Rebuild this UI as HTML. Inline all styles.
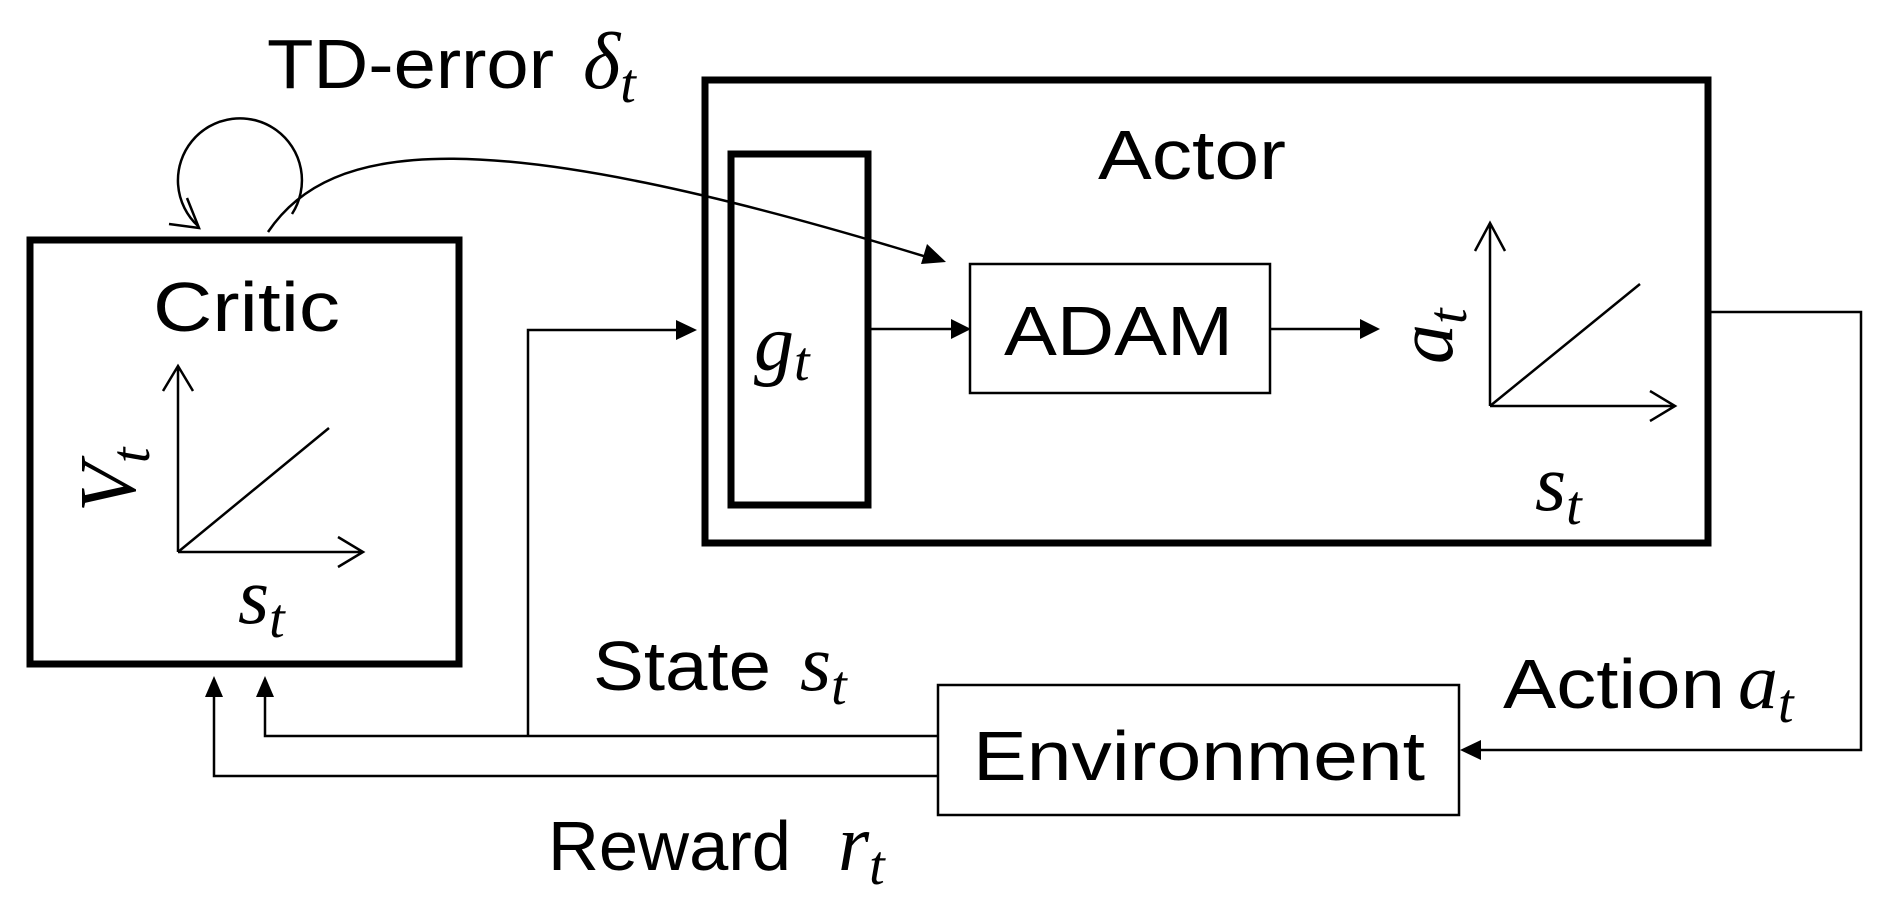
<!DOCTYPE html>
<html><head><meta charset="utf-8"><style>
html,body{margin:0;padding:0;background:#fff;width:1879px;height:922px;overflow:hidden}
svg{display:block}
text{font-family:"Liberation Sans",Arial,sans-serif;fill:#000}
.m{font-family:"Liberation Serif","DejaVu Serif",serif;font-style:italic}
</style></head><body>
<svg width="1879" height="922" viewBox="0 0 1879 922" xmlns="http://www.w3.org/2000/svg">
<g fill="none" stroke="#000">
<rect x="30" y="240" width="429" height="424" stroke-width="7"/>
<rect x="705" y="80" width="1003" height="463" stroke-width="7"/>
<rect x="731" y="154" width="137" height="351" stroke-width="7"/>
<rect x="970" y="264" width="300" height="129" stroke-width="2.5"/>
<rect x="938" y="685" width="521" height="130" stroke-width="2.5"/>
<g stroke-width="2.5">
<path d="M178,552 V366 M163,391 L178,366 L193,391"/>
<path d="M178,552 H363 M338,537 L363,552 L338,567"/>
<path d="M178,552 L329,428"/>
<path d="M1490,406 V223 M1475,251 L1490,223 L1505,251"/>
<path d="M1490,406 H1675 M1650,391 L1675,406 L1650,421"/>
<path d="M1490,406 L1640,284"/>
</g>
<path d="M292,214 A62,62 0 1 0 198,226" stroke-width="2.5"/>
<path d="M187,198 L199,228 L169,224" stroke-width="2.5"/>
<path d="M268,232 C330,140 480,120 930,258" stroke-width="2.5"/>
<g stroke-width="2.5">
<path d="M938,736 H265 V695"/>
<path d="M528,736 V330 H680"/>
<path d="M938,776 H214 V695"/>
<path d="M1708,312 H1861 V750 H1480"/>
<path d="M871,329 H955"/>
<path d="M1271,329 H1362"/>
</g>
</g>
<g fill="#000">
<path d="M265,676 L256,697 L274,697 Z"/>
<path d="M214,676 L205,697 L223,697 Z"/>
<path d="M697,330 L676,320 L676,340 Z"/>
<path d="M1460,750 L1481,740 L1481,760 Z"/>
<path d="M971,329 L951,319 L951,339 Z"/>
<path d="M1380,329 L1360,319 L1360,339 Z"/>
<path d="M946,262 L921,264 L927,244 Z"/>
</g>
<text x="153" y="331" font-size="70" textLength="187" lengthAdjust="spacingAndGlyphs">Critic</text>
<text x="1098" y="179" font-size="70" textLength="188" lengthAdjust="spacingAndGlyphs">Actor</text>
<text x="1004" y="355" font-size="70" textLength="229" lengthAdjust="spacingAndGlyphs">ADAM</text>
<text x="973" y="780" font-size="70" textLength="452" lengthAdjust="spacingAndGlyphs">Environment</text>
<text x="267" y="88" font-size="70" textLength="287" lengthAdjust="spacingAndGlyphs">TD-error</text>
<text x="583" y="88" font-size="80" class="m">δ<tspan font-size="56" dy="14">t</tspan></text>
<text x="593" y="690" font-size="70" textLength="178" lengthAdjust="spacingAndGlyphs">State</text>
<text x="800" y="690" font-size="80" class="m">s<tspan font-size="56" dy="14">t</tspan></text>
<text x="548" y="870" font-size="70" textLength="243" lengthAdjust="spacingAndGlyphs">Reward</text>
<text x="838" y="870" font-size="80" class="m">r<tspan font-size="56" dy="14">t</tspan></text>
<text x="1503" y="708" font-size="70" textLength="222" lengthAdjust="spacingAndGlyphs">Action</text>
<text x="1738" y="708" font-size="80" class="m">a<tspan font-size="56" dy="14">t</tspan></text>
<text x="754" y="370" font-size="80" class="m">g<tspan font-size="56" dy="10">t</tspan></text>
<text x="238" y="623" font-size="80" class="m">s<tspan font-size="56" dy="14">t</tspan></text>
<text x="1535" y="510" font-size="80" class="m">s<tspan font-size="56" dy="14">t</tspan></text>
<text transform="translate(135,512) rotate(-90)" font-size="80" class="m">V<tspan font-size="56" dy="14">t</tspan></text>
<text transform="translate(1452,364) rotate(-90)" font-size="80" class="m">a<tspan font-size="56" dy="14">t</tspan></text>
</svg>
</body></html>
